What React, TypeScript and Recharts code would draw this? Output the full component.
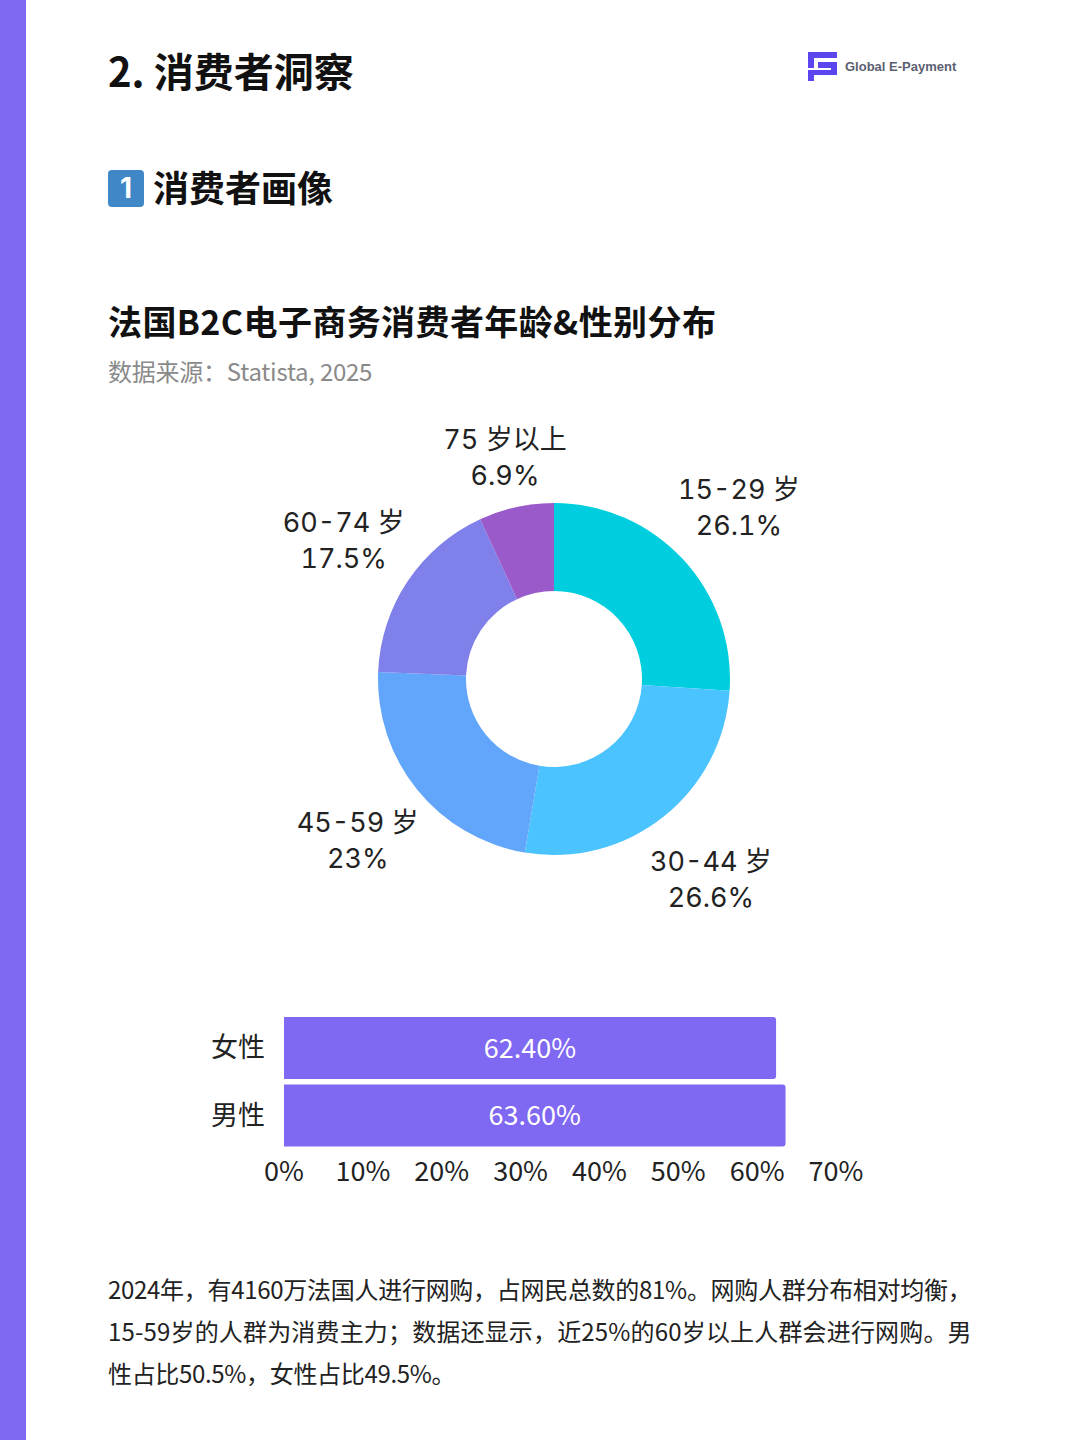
import { PieChart, Pie, Cell, BarChart, Bar, XAxis, YAxis, LabelList } from "recharts";

const ageGroups = ["15-29 岁", "30-44 岁", "45-59 岁", "60-74 岁", "75 岁以上"];
const ageShares = [26.1, 26.6, 23, 17.5, 6.9];
const ageColors = ["#00CEDF", "#4AC3FF", "#62A6FB", "#7F80E9", "#9A5AC9"];

const genders = ["女性", "男性"];
const genderShares = [62.4, 63.6];
const genderTicks = [0, 10, 20, 30, 40, 50, 60, 70];

const paragraph = [
  "2024年，有4160万法国人进行网购，占网民总数的81%。网购人群分布相对均衡，",
  "15-59岁的人群为消费主力；数据还显示，近25%的60岁以上人群会进行网购。男",
  "性占比50.5%，女性占比49.5%。",
];
const paragraphSpacing = [-0.29, 0.17, -0.33];

const ageData = ageGroups.map((name, i) => ({ name, value: ageShares[i] }));
const genderData = genders.map((name, i) => ({ name, value: genderShares[i] }));

const CJK = '"Noto Sans CJK SC", "Noto Sans", sans-serif';
const LABEL_FONT = 'Inter, "Noto Sans CJK SC", sans-serif';

const RAD = Math.PI / 180;

function AgeLabel({ cx, cy, midAngle, outerRadius, index }: any) {
  // top slice label sits closer to the ring than the others
  const r = outerRadius + (index === 4 ? 52 : 77);
  const x = cx + r * Math.cos(-midAngle * RAD);
  const y = cy + r * Math.sin(-midAngle * RAD);
  return (
    <text
      textAnchor="middle"
      fontSize={27}
      fill="#222"
      fontFamily={LABEL_FONT}
      style={{ fontFeatureSettings: '"tnum"' }}
    >
      <tspan x={x} y={y - 7}>{ageGroups[index]}</tspan>
      <tspan x={x} y={y + 29}>{ageShares[index]}%</tspan>
    </text>
  );
}

function Abs({ x, y, size, weight, color, spacing, children }: any) {
  return (
    <div
      style={{
        position: "absolute",
        left: x,
        top: y,
        fontSize: size,
        fontWeight: weight ?? 400,
        color: color ?? "#111",
        letterSpacing: spacing ?? 0,
        whiteSpace: "nowrap",
        lineHeight: 1,
      }}
    >
      {children}
    </div>
  );
}

export default function App() {
  return (
    <div
      style={{
        position: "absolute",
        left: 0,
        top: 0,
        width: 1080,
        height: 1440,
        background: "#fff",
        overflow: "hidden",
        fontFamily: CJK,
      }}
    >
      <div style={{ position: "absolute", left: 0, top: 0, width: 26, height: 1440, background: "#7F68F2" }} />

      <Abs x={108} y={50} size={40} weight={700}>2. 消费者洞察</Abs>

      <svg style={{ position: "absolute", left: 807, top: 51 }} width={31} height={32} viewBox="0 0 31 32">
        <path d="M1 1H30V7H7V17H1Z" fill="#5B45EE" />
        <path d="M11 11H30V24H7V30H1V19H24V17H11Z" fill="#5B45EE" />
      </svg>
      <div
        style={{
          position: "absolute",
          left: 845,
          top: 59,
          fontFamily: '"Liberation Sans", Arial, sans-serif',
          fontSize: 13,
          fontWeight: 700,
          lineHeight: "16px",
          color: "#5C6072",
          whiteSpace: "nowrap",
        }}
      >
        Global E-Payment
      </div>

      <div
        style={{
          position: "absolute",
          left: 108,
          top: 170,
          width: 36,
          height: 37,
          borderRadius: 4,
          background: "#3F87C7",
          color: "#fff",
          fontFamily: "Inter, sans-serif",
          fontSize: 28,
          fontWeight: 700,
          lineHeight: "36px",
          textAlign: "center",
        }}
      >
        1
      </div>
      <Abs x={153} y={168} size={36} weight={700}>消费者画像</Abs>

      <Abs x={108} y={304} size={34} weight={700} spacing={0.4}>法国B2C电子商务消费者年龄&amp;性别分布</Abs>
      <Abs x={108} y={359} size={24} color="#8A8A8A" spacing={-0.25}>数据来源：Statista, 2025</Abs>

      <div style={{ position: "absolute", left: 154, top: 399 }}>
        <PieChart width={800} height={560} margin={{ top: 0, right: 0, bottom: 0, left: 0 }}>
          <Pie
            data={ageData}
            dataKey="value"
            cx={400}
            cy={280}
            innerRadius={88}
            outerRadius={176}
            startAngle={90}
            endAngle={-270}
            stroke="none"
            label={AgeLabel}
            labelLine={false}
            isAnimationActive={false}
          >
            {ageData.map((d, i) => (
              <Cell key={d.name} fill={ageColors[i]} />
            ))}
          </Pie>
        </PieChart>
      </div>

      <div style={{ position: "absolute", left: 184, top: 1010 }}>
        <BarChart
          width={700}
          height={190}
          data={genderData}
          layout="vertical"
          margin={{ top: 4, right: 48, left: 0, bottom: 0 }}
        >
          <XAxis
            type="number"
            domain={[0, 70]}
            ticks={genderTicks}
            tickFormatter={(v) => `${v}%`}
            tick={{ fontSize: 27, fill: "#222" }}
            axisLine={false}
            tickLine={false}
            tickMargin={7}
            height={51}
            interval={0}
          />
          <YAxis
            type="category"
            dataKey="name"
            width={100}
            tick={{ fontSize: 27, fill: "#222" }}
            axisLine={false}
            tickLine={false}
            tickMargin={13}
          />
          <Bar dataKey="value" fill="#7F68F2" barSize={62} radius={[0, 3, 3, 0]} isAnimationActive={false}>
            <LabelList
              dataKey="value"
              position="center"
              formatter={(v: number) => `${v.toFixed(2)}%`}
              fill="#fff"
              fontSize={27}
            />
          </Bar>
        </BarChart>
      </div>

      {paragraph.map((line, i) => (
        <Abs key={i} x={108} y={1277 + i * 42} size={24} color="#222" spacing={paragraphSpacing[i]}>{line}</Abs>
      ))}
    </div>
  );
}
